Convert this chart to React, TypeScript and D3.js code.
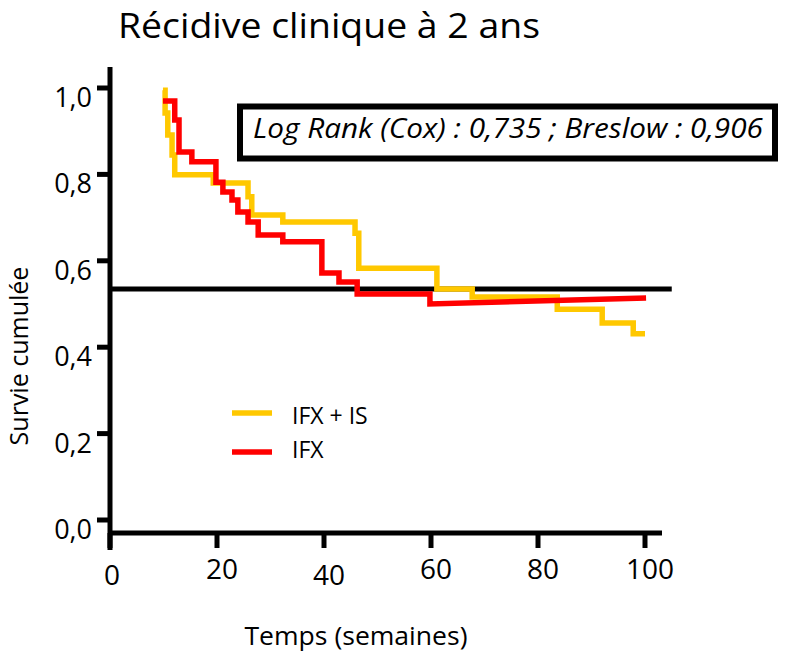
import React from "react";
import * as d3 from "d3";

// Kaplan-Meier step data (time in weeks, cumulative survival)
const ifxIsTimes = [9.9, 10.3, 10.8, 11.6, 12.1, 19.3, 25.8, 26.5, 32.3, 45.8, 46.5, 61.1, 67.7, 83.6, 92.0, 97.8];
const ifxIsSurv = [0.995, 0.942, 0.891, 0.845, 0.799, 0.78, 0.748, 0.706, 0.69, 0.664, 0.583, 0.535, 0.516, 0.488, 0.456, 0.431];
const ifxIsEnd = [100.0, 0.431];

const ifxTimes = [9.9, 12.1, 12.9, 15.3, 19.8, 21.1, 22.8, 23.9, 25.8, 27.7, 32.3, 39.6, 42.8, 46.2, 59.8];
const ifxSurv = [0.97, 0.926, 0.852, 0.829, 0.782, 0.759, 0.741, 0.713, 0.69, 0.66, 0.644, 0.572, 0.551, 0.523, 0.5];
const ifxEnd = [100.2, 0.514];

const medianLevel = 0.535;
const medianSpan = [0, 105];

const xTicks = [0, 20, 40, 60, 80, 100];
const yTicks = [0, 0.2, 0.4, 0.6, 0.8, 1.0];
const yTickLabels = ["0,0", "0,2", "0,4", "0,6", "0,8", "1,0"];
const seriesNames = ["IFX + IS", "IFX"];
const seriesColors = ["#FFC800", "#FF0000"];

const titleText = "Récidive clinique à 2 ans";
const statsText = "Log Rank (Cox) : 0,735 ; Breslow : 0,906";
const xTitle = "Temps (semaines)";
const yTitle = "Survie cumulée";

const FONT = "'Open Sans', 'DejaVu Sans', sans-serif";

function buildPath(times: number[], surv: number[], end: number[]): [number, number][] {
  const pts: [number, number][] = [[times[0], surv[0]]];
  for (let i = 1; i < times.length; i++) {
    pts.push([times[i], surv[i - 1]]);
    pts.push([times[i], surv[i]]);
  }
  pts.push([end[0], end[1]]);
  return pts;
}

export default function App() {
  const x = d3.scaleLinear().domain([0, 100]).range([110, 645]);
  const y = d3.scaleLinear().domain([0, 1]).range([520, 88]);
  const line = d3
    .line<[number, number]>()
    .x((d) => x(d[0]))
    .y((d) => y(d[1]));

  const series = [
    buildPath(ifxIsTimes, ifxIsSurv, ifxIsEnd),
    buildPath(ifxTimes, ifxSurv, ifxEnd),
  ];

  const axisW = 5;
  const xAxisY = 533;
  const xAxisEnd = 662;

  return (
    <svg
      width={798}
      height={655}
      style={{ position: "absolute", left: 0, top: 0, background: "#fff" }}
      fontFamily={FONT}
    >
      <rect x={0} y={0} width={798} height={655} fill="#fff" />
      {/* Title */}
      <text x={118} y={38} fontSize={34} fill="#000" textLength={422} lengthAdjust="spacingAndGlyphs">
        {titleText}
      </text>

      {/* Stats box */}
      <rect x={240} y={106.5} width={535} height={52} fill="#fff" stroke="#000" strokeWidth={6} />
      <text
        x={253}
        y={138}
        fontSize={28}
        fontStyle="italic"
        fill="#000"
        textLength={510}
        lengthAdjust="spacingAndGlyphs"
      >
        {statsText}
      </text>

      {/* Median reference line */}
      <line
        x1={x(medianSpan[0])}
        x2={x(medianSpan[1])}
        y1={y(medianLevel)}
        y2={y(medianLevel)}
        stroke="#000"
        strokeWidth={5}
      />

      {/* Curves */}
      <path d={line(series[0]) || ""} fill="none" stroke={seriesColors[0]} strokeWidth={5.5} strokeLinejoin="miter" />
      <path d={line(series[1]) || ""} fill="none" stroke={seriesColors[1]} strokeWidth={5.5} strokeLinejoin="miter" />

      {/* Y axis */}
      <line x1={110} x2={110} y1={67} y2={550} stroke="#000" strokeWidth={axisW} />
      {yTicks.map((t, i) => (
        <g key={"yt" + i}>
          <line x1={97} x2={110} y1={y(t)} y2={y(t)} stroke="#000" strokeWidth={axisW} />
          <text x={92} y={y(t) + 19} fontSize={27} textAnchor="end" fill="#000">
            {yTickLabels[i]}
          </text>
        </g>
      ))}

      {/* X axis */}
      <line x1={108} x2={xAxisEnd} y1={xAxisY} y2={xAxisY} stroke="#000" strokeWidth={axisW} />
      {xTicks.map((t, i) => (
        <g key={"xt" + i}>
          <line x1={x(t)} x2={x(t)} y1={xAxisY} y2={548} stroke="#000" strokeWidth={axisW} />
          <text
            x={x(t) + (t === 0 ? 2 : 5)}
            y={t === 0 || t === 40 ? 585 : 579}
            fontSize={28}
            textAnchor="middle"
            fill="#000"
          >
            {String(t)}
          </text>
        </g>
      ))}

      {/* Axis titles */}
      <text
        transform="translate(28,356) rotate(-90)"
        fontSize={25}
        textAnchor="middle"
        fill="#000"
      >
        {yTitle}
      </text>
      <text x={356} y={645} fontSize={26} textAnchor="middle" fill="#000" textLength={223} lengthAdjust="spacingAndGlyphs">
        {xTitle}
      </text>

      {/* Legend */}
      {seriesNames.map((name, i) => (
        <g key={"lg" + i}>
          <line x1={232} x2={272} y1={413 + i * 39} y2={413 + i * 39} stroke={seriesColors[i]} strokeWidth={5.5} />
          <text x={292} y={424 + i * 34} fontSize={23} fill="#000">
            {name}
          </text>
        </g>
      ))}
    </svg>
  );
}
